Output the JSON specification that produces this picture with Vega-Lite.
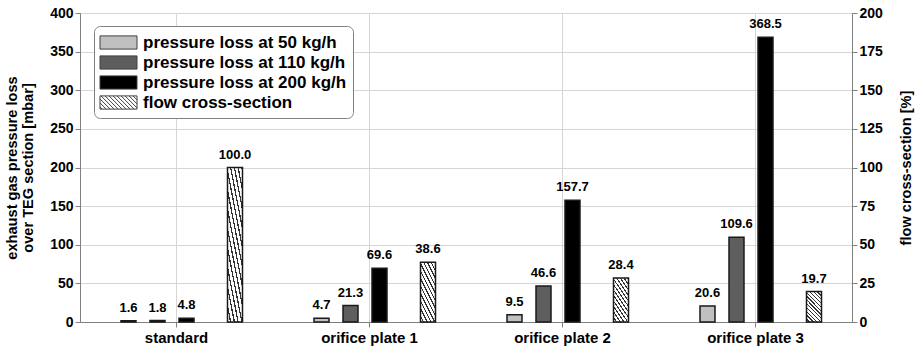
{
  "$schema": "https://vega.github.io/schema/vega-lite/v6.json",
  "width": 772,
  "height": 309,
  "autosize": {"type": "none"},
  "padding": {"left": 80, "top": 13, "right": 65, "bottom": 30},
  "background": "white",
  "config": {
    "font": "Liberation Sans",
    "view": {"stroke": "#808080", "strokeWidth": 1},
    "axis": {
      "labelFont": "Liberation Sans",
      "labelFontSize": 14,
      "labelFontWeight": "bold",
      "labelColor": "#000000",
      "titleFont": "Liberation Sans",
      "titleFontSize": 14.6,
      "titleFontWeight": "bold",
      "titleColor": "#000000",
      "domainColor": "#808080",
      "tickColor": "#808080",
      "gridColor": "#d6d6d6",
      "tickSize": 5
    },
    "legend": {
      "labelFont": "Liberation Sans",
      "labelFontSize": 17,
      "labelFontWeight": "bold",
      "labelColor": "#000000"
    }
  },
  "datasets": {
    "pressure": [
      {"config": "standard", "series": "pressure loss at 50 kg/h", "value": 1.6},
      {"config": "standard", "series": "pressure loss at 110 kg/h", "value": 1.8},
      {"config": "standard", "series": "pressure loss at 200 kg/h", "value": 4.8},
      {"config": "orifice plate 1", "series": "pressure loss at 50 kg/h", "value": 4.7},
      {"config": "orifice plate 1", "series": "pressure loss at 110 kg/h", "value": 21.3},
      {"config": "orifice plate 1", "series": "pressure loss at 200 kg/h", "value": 69.6},
      {"config": "orifice plate 2", "series": "pressure loss at 50 kg/h", "value": 9.5},
      {"config": "orifice plate 2", "series": "pressure loss at 110 kg/h", "value": 46.6},
      {"config": "orifice plate 2", "series": "pressure loss at 200 kg/h", "value": 157.7},
      {"config": "orifice plate 3", "series": "pressure loss at 50 kg/h", "value": 20.6},
      {"config": "orifice plate 3", "series": "pressure loss at 110 kg/h", "value": 109.6},
      {"config": "orifice plate 3", "series": "pressure loss at 200 kg/h", "value": 368.5}
    ],
    "flow": [
      {"config": "standard", "series": "flow cross-section", "value": 100.0},
      {"config": "orifice plate 1", "series": "flow cross-section", "value": 38.6},
      {"config": "orifice plate 2", "series": "flow cross-section", "value": 28.4},
      {"config": "orifice plate 3", "series": "flow cross-section", "value": 19.7}
    ]
  },
  "encoding": {
    "x": {
      "field": "config",
      "type": "nominal",
      "sort": ["standard", "orifice plate 1", "orifice plate 2", "orifice plate 3"],
      "scale": {"paddingInner": 0, "paddingOuter": 0},
      "axis": {"title": null, "labelAngle": 0, "bandPosition": 0.5, "grid": true, "labelFontSize": 15, "labelPadding": 3}
    }
  },
  "layer": [
    {
      "data": {"name": "pressure"},
      "encoding": {
        "xOffset": {
          "field": "series",
          "type": "nominal",
          "sort": ["pressure loss at 50 kg/h", "pressure loss at 110 kg/h", "pressure loss at 200 kg/h"],
          "scale": {"range": [34, 121], "paddingInner": 0.483, "paddingOuter": 0.2414}
        },
        "y": {
          "field": "value",
          "type": "quantitative",
          "scale": {"domain": [0, 400], "nice": false},
          "axis": {
            "orient": "left",
            "values": [0, 50, 100, 150, 200, 250, 300, 350, 400],
            "title": ["exhaust gas pressure loss", "over TEG section [mbar]"],
            "titlePadding": 14,
            "labelPadding": 2
          }
        }
      },
      "layer": [
        {
          "mark": {"type": "bar", "stroke": "#1a1a1a", "strokeWidth": 1.5},
          "encoding": {
            "fill": {
              "field": "series",
              "type": "nominal",
              "scale": {
                "domain": ["pressure loss at 50 kg/h", "pressure loss at 110 kg/h", "pressure loss at 200 kg/h", "flow cross-section"],
                "range": ["#c0c0c0", "#5e5e5e", "#000000", "#ffffff"]
              },
              "legend": {
                "title": null,
                "orient": "none",
                "legendX": 14,
                "legendY": 13,
                "symbolType": "M-1.85,-0.66H1.85V0.66H-1.85Z",
                "symbolSize": 400,
                "symbolStrokeColor": "#404040",
                "symbolStrokeWidth": 1,
                "symbolOpacity": 1,
                "strokeColor": "#808080",
                "fillColor": "#ffffff",
                "cornerRadius": 6,
                "padding": 6,
                "rowPadding": 0,
                "labelOffset": 22,
                "labelLimit": 400,
                "encode": {
                  "symbols": {
                    "update": {
                      "stroke": {"value": "#404040"},
                      "strokeWidth": {"value": 1},
                      "xc": {"value": 18.5},
                      "shape": [
                        {"test": "datum.value === 'flow cross-section'", "value": "M-1.85,-0.66H1.85V0.66H-1.85Z M-1.85,0.44L-1.63,0.66 M-1.85,0.04L-1.23,0.66 M-1.85,-0.36L-0.83,0.66 M-1.75,-0.66L-0.43,0.66 M-1.35,-0.66L-0.03,0.66 M-0.95,-0.66L0.37,0.66 M-0.55,-0.66L0.77,0.66 M-0.15,-0.66L1.17,0.66 M0.25,-0.66L1.57,0.66 M0.65,-0.66L1.85,0.54 M1.05,-0.66L1.85,0.14 M1.45,-0.66L1.85,-0.26"},
                        {"value": "M-1.85,-0.66H1.85V0.66H-1.85Z"}
                      ]
                    }
                  }
                }
              }
            }
          }
        },
        {
          "mark": {"type": "text", "baseline": "bottom", "dy": -6, "fontSize": 13, "fontWeight": "bold", "color": "#000000"},
          "encoding": {
            "text": {"field": "value", "type": "quantitative", "format": ".1f"}
          }
        }
      ]
    },
    {
      "data": {"name": "flow"},
      "encoding": {
        "xOffset": {
          "field": "series",
          "type": "nominal",
          "scale": {"range": [147.5, 162.5], "paddingInner": 0, "paddingOuter": 0}
        },
        "y": {
          "field": "value",
          "type": "quantitative",
          "scale": {"domain": [0, 200], "nice": false},
          "axis": {
            "orient": "right",
            "values": [0, 25, 50, 75, 100, 125, 150, 175, 200],
            "grid": false,
            "title": "flow cross-section [%]",
            "titleAngle": 270,
            "titleBaseline": "top",
            "titlePadding": 16,
            "labelPadding": 2
          }
        }
      },
      "layer": [
        {
          "mark": {"type": "bar", "stroke": "#1a1a1a", "strokeWidth": 1.5,
            "fill": {"gradient": "linear", "x1": 0, "y1": 1, "x2": 0.6, "y2": -0.2, "stops": [
              {"offset": 0, "color": "#ffffff"}, {"offset": 0.055, "color": "#ffffff"}, {"offset": 0.055, "color": "#333333"}, {"offset": 0.0833, "color": "#333333"},
              {"offset": 0.0833, "color": "#ffffff"}, {"offset": 0.1383, "color": "#ffffff"}, {"offset": 0.1383, "color": "#333333"}, {"offset": 0.1667, "color": "#333333"},
              {"offset": 0.1667, "color": "#ffffff"}, {"offset": 0.2217, "color": "#ffffff"}, {"offset": 0.2217, "color": "#333333"}, {"offset": 0.25, "color": "#333333"},
              {"offset": 0.25, "color": "#ffffff"}, {"offset": 0.305, "color": "#ffffff"}, {"offset": 0.305, "color": "#333333"}, {"offset": 0.3333, "color": "#333333"},
              {"offset": 0.3333, "color": "#ffffff"}, {"offset": 0.3883, "color": "#ffffff"}, {"offset": 0.3883, "color": "#333333"}, {"offset": 0.4167, "color": "#333333"},
              {"offset": 0.4167, "color": "#ffffff"}, {"offset": 0.4717, "color": "#ffffff"}, {"offset": 0.4717, "color": "#333333"}, {"offset": 0.5, "color": "#333333"},
              {"offset": 0.5, "color": "#ffffff"}, {"offset": 0.555, "color": "#ffffff"}, {"offset": 0.555, "color": "#333333"}, {"offset": 0.5833, "color": "#333333"},
              {"offset": 0.5833, "color": "#ffffff"}, {"offset": 0.6383, "color": "#ffffff"}, {"offset": 0.6383, "color": "#333333"}, {"offset": 0.6667, "color": "#333333"},
              {"offset": 0.6667, "color": "#ffffff"}, {"offset": 0.7217, "color": "#ffffff"}, {"offset": 0.7217, "color": "#333333"}, {"offset": 0.75, "color": "#333333"},
              {"offset": 0.75, "color": "#ffffff"}, {"offset": 0.805, "color": "#ffffff"}, {"offset": 0.805, "color": "#333333"}, {"offset": 0.8333, "color": "#333333"},
              {"offset": 0.8333, "color": "#ffffff"}, {"offset": 0.8883, "color": "#ffffff"}, {"offset": 0.8883, "color": "#333333"}, {"offset": 0.9167, "color": "#333333"},
              {"offset": 0.9167, "color": "#ffffff"}, {"offset": 0.9717, "color": "#ffffff"}, {"offset": 0.9717, "color": "#333333"}, {"offset": 1, "color": "#333333"}
            ]}
          },
          "encoding": {}
        },
        {
          "mark": {"type": "text", "baseline": "bottom", "dy": -6, "fontSize": 13, "fontWeight": "bold", "color": "#000000"},
          "encoding": {
            "text": {"field": "value", "type": "quantitative", "format": ".1f"}
          }
        }
      ]
    }
  ],
  "resolve": {"scale": {"y": "independent", "xOffset": "independent"}}
}
